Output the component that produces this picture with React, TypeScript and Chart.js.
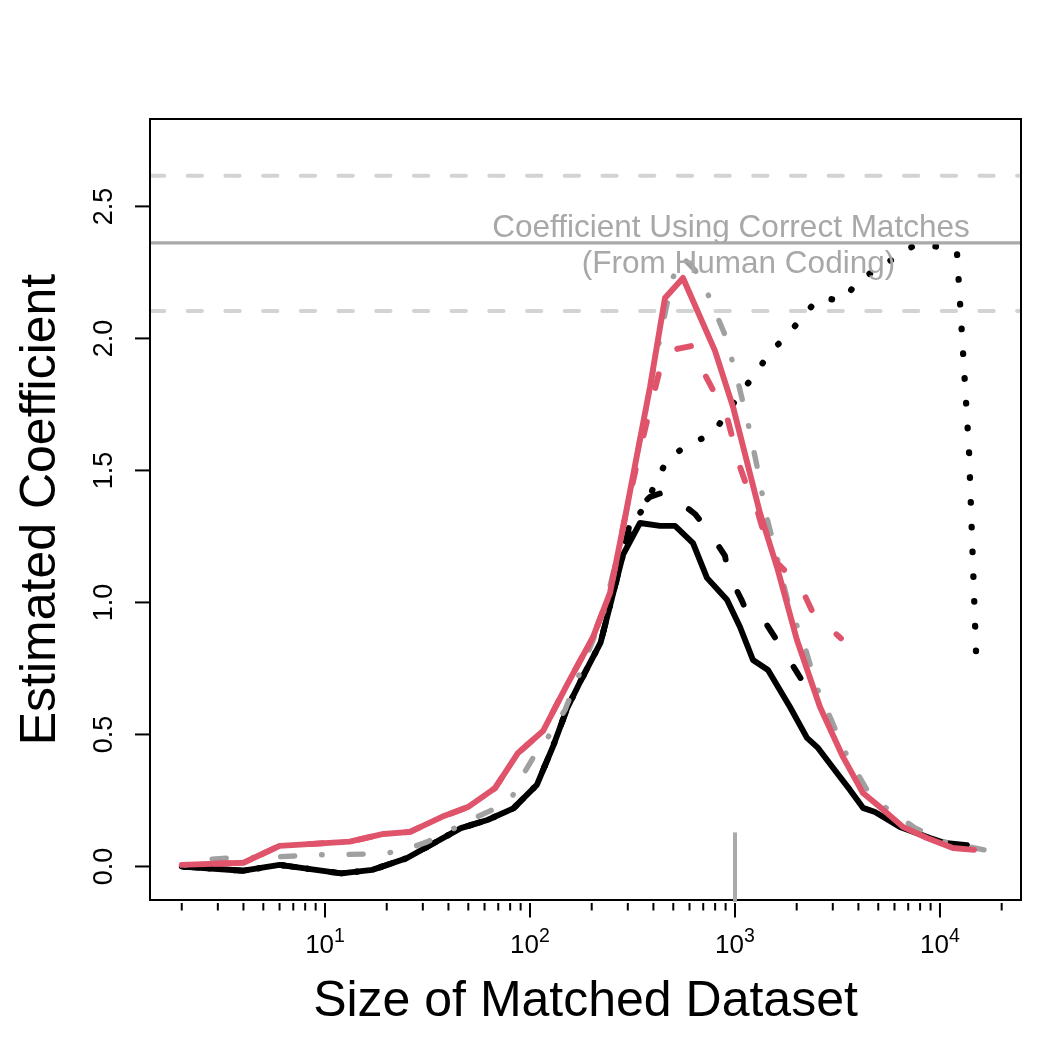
import React, { useEffect, useRef } from "react";
import { Chart, registerables } from "chart.js";

Chart.register(...registerables);

// ---------------- data ----------------
// Reference values (coefficient from human-coded correct matches)
const correctCoef = 2.362;
const correctLower = 2.104;
const correctUpper = 2.616;
const markerX = 1000;
const markerTop = 0.129;
const annotationLines = ["Coefficient Using Correct Matches", "(From Human Coding)"];

// axis ticks
const xLabelPowers = [1, 2, 3, 4];
const xTickDecades = [0, 1, 2, 3, 4];
const xTickMultipliers = [1, 2, 3, 4, 5, 6, 7, 8, 9];
const xTickFirst = 2;
const xTickLast = 20000;
const yTickValues = [0, 0.5, 1, 1.5, 2, 2.5];
const yTickLabels = ["0.0", "0.5", "1.0", "1.5", "2.0", "2.5"];

// black lines share their first part
const blackCommonX = [2, 4, 6, 12, 17, 25, 46, 62, 83, 108, 130, 152, 175, 221, 284];
const blackCommonY = [0.0, -0.016, 0.006, -0.026, -0.013, 0.031, 0.145, 0.176, 0.22, 0.309, 0.458, 0.6, 0.697, 0.848, 1.18];

const blackSolidRestX = [344, 431, 510, 624, 730, 914, 1058, 1224, 1449, 1855, 2245, 2541, 3145, 3639, 4211, 4819, 6380, 8940, 10578, 13544];
const blackSolidRestY = [1.301, 1.29, 1.29, 1.225, 1.093, 1.01, 0.907, 0.782, 0.744, 0.604, 0.487, 0.449, 0.354, 0.29, 0.222, 0.206, 0.15, 0.108, 0.089, 0.081];

const blackDashedRestX = [308, 336, 385, 456, 521, 638, 738, 894, 925, 1082, 1184, 1432, 1621, 2087];
const blackDashedRestY = [1.305, 1.358, 1.4, 1.419, 1.388, 1.335, 1.275, 1.176, 1.112, 1.006, 0.934, 0.915, 0.85, 0.714];

const blackDottedRestX = [329, 371, 417, 471, 603, 772, 914, 1058, 1266, 1465, 1794, 2147, 2570, 3364, 4012, 4967, 6080, 7551, 9636, 12100, 13852, 14987];
const blackDottedRestY = [1.313, 1.38, 1.464, 1.547, 1.6, 1.638, 1.714, 1.794, 1.866, 1.945, 2.009, 2.085, 2.153, 2.144, 2.22, 2.263, 2.308, 2.354, 2.348, 2.328, 1.577, 0.816];

// red lines share their first part
const redCommonX = [2, 4, 6, 13.2, 19.3, 26, 37.2, 49.8, 67.5, 87.4, 115.7, 151.5, 203, 245.6, 290.6];
const redCommonY = [0.006, 0.014, 0.078, 0.094, 0.123, 0.131, 0.188, 0.225, 0.297, 0.43, 0.513, 0.688, 0.869, 1.036, 1.32];

const redSolidRestX = [385, 455.5, 557.5, 799, 978, 1324, 1603, 2006, 2598, 3364, 4211, 5097, 6599, 8643, 11571, 14655];
const redSolidRestY = [1.816, 2.153, 2.229, 1.953, 1.741, 1.339, 1.134, 0.858, 0.604, 0.415, 0.278, 0.225, 0.15, 0.108, 0.07, 0.063];

const redDashedRestX = [344, 398, 421, 450, 493, 617, 706, 781, 914, 1058, 1144, 1295, 1369, 1603, 1794, 2195, 2402, 3289];
const redDashedRestY = [1.578, 1.778, 1.854, 1.938, 1.956, 1.972, 1.869, 1.805, 1.703, 1.513, 1.438, 1.339, 1.275, 1.15, 1.112, 1.025, 0.96, 0.864];

const greyX = [2, 2.6, 3.33, 5.58, 9.45, 15.7, 20.3, 26, 31.5, 53.9, 65.3, 81.7, 92.4, 103.4, 121, 148.2, 169.6, 203, 227, 274.8, 344, 398, 493, 551, 638, 730, 894, 1023, 1157, 1280, 1416, 1603, 1814, 2195, 2512, 2811, 3441, 4405, 5391, 7551, 10578, 16400];
const greyY = [0.002, 0.025, 0.032, 0.036, 0.044, 0.047, 0.051, 0.07, 0.093, 0.184, 0.214, 0.263, 0.347, 0.411, 0.483, 0.593, 0.706, 0.858, 0.953, 1.218, 1.616, 1.873, 2.222, 2.309, 2.259, 2.176, 2.013, 1.85, 1.68, 1.517, 1.335, 1.172, 1.002, 0.831, 0.676, 0.593, 0.434, 0.29, 0.225, 0.146, 0.093, 0.063];

// ---------------- helpers ----------------
const FONT = '"Liberation Sans", Arial, Helvetica, sans-serif';
const RED = "#DF536B";
const GREY = "#A0A0A0";

const pts = (xs: number[], ys: number[]) => xs.map((x, i) => ({ x, y: ys[i] }));

// dash offset so that the pattern reaches a given phase at the path's end
const endPhase = (xs: number[], ys: number[], phaseAtEnd: number, period: number) => (c: any) => {
  const sx = c?.chart?.scales?.x;
  const sy = c?.chart?.scales?.y;
  if (!sx || !sy) return 0;
  let L = 0;
  for (let i = 1; i < xs.length; i++) {
    const dx = sx.getPixelForValue(xs[i]) - sx.getPixelForValue(xs[i - 1]);
    const dy = sy.getPixelForValue(ys[i]) - sy.getPixelForValue(ys[i - 1]);
    L += Math.hypot(dx, dy);
  }
  if (!isFinite(L)) return 0;
  return (((phaseAtEnd - L) % period) + period) % period;
};

const rPlot = {
  id: "rPlot",
  beforeDraw(chart: any) {
    const ctx = chart.ctx;
    ctx.save();
    ctx.fillStyle = "#ffffff";
    ctx.fillRect(0, 0, chart.width, chart.height);
    ctx.restore();
  },
  beforeDatasetsDraw(chart: any) {
    const { ctx, chartArea: a } = chart;
    const y = chart.scales.y;
    ctx.save();
    ctx.beginPath();
    ctx.rect(a.left, a.top, a.right - a.left, a.bottom - a.top);
    ctx.clip();
    ctx.strokeStyle = "#D3D3D3";
    ctx.lineWidth = 4;
    ctx.lineCap = "round";
    ctx.setLineDash([14.3, 23.4]);
    for (const v of [correctUpper, correctLower]) {
      const py = y.getPixelForValue(v);
      ctx.beginPath();
      ctx.moveTo(a.left, py);
      ctx.lineTo(a.right, py);
      ctx.stroke();
    }
    ctx.restore();
  },
  afterDatasetsDraw(chart: any) {
    const { ctx, chartArea: a } = chart;
    const x = chart.scales.x;
    const y = chart.scales.y;
    ctx.save();

    // solid reference line
    ctx.strokeStyle = "#AAAAAA";
    ctx.lineWidth = 3.3;
    ctx.setLineDash([]);
    ctx.lineCap = "butt";
    const pc = y.getPixelForValue(correctCoef);
    ctx.beginPath();
    ctx.moveTo(a.left, pc);
    ctx.lineTo(a.right, pc);
    ctx.stroke();

    // annotation text
    ctx.fillStyle = "#A8A8A8";
    ctx.font = `31.5px ${FONT}`;
    ctx.textAlign = "center";
    ctx.textBaseline = "alphabetic";
    ctx.fillText(annotationLines[0], 731, 236.7);
    ctx.fillText(annotationLines[1], 738.5, 273.3);

    // box
    ctx.strokeStyle = "#000000";
    ctx.lineWidth = 2;
    ctx.strokeRect(a.left, a.top, a.right - a.left, a.bottom - a.top);

    // marker segment at 1000
    const mx = x.getPixelForValue(markerX);
    ctx.strokeStyle = "#AAAAAA";
    ctx.lineWidth = 4;
    ctx.beginPath();
    ctx.moveTo(mx, a.bottom + 2);
    ctx.lineTo(mx, y.getPixelForValue(markerTop));
    ctx.stroke();

    // x ticks
    ctx.strokeStyle = "#000000";
    ctx.lineWidth = 2;
    for (const d of xTickDecades) {
      for (const m of xTickMultipliers) {
        const v = m * Math.pow(10, d);
        if (v < xTickFirst || v > xTickLast) continue;
        const px = x.getPixelForValue(v);
        const len = m === 1 ? 14.5 : 7.5;
        ctx.beginPath();
        ctx.moveTo(px, a.bottom + 3);
        ctx.lineTo(px, a.bottom + 3 + len);
        ctx.stroke();
      }
    }
    // y ticks
    for (const v of yTickValues) {
      const py = y.getPixelForValue(v);
      ctx.beginPath();
      ctx.moveTo(a.left - 15, py);
      ctx.lineTo(a.left, py);
      ctx.stroke();
    }

    // x tick labels 10^k
    ctx.fillStyle = "#000000";
    ctx.textAlign = "left";
    for (const p of xLabelPowers) {
      const px = x.getPixelForValue(Math.pow(10, p));
      ctx.font = `26px ${FONT}`;
      const w1 = ctx.measureText("10").width;
      ctx.font = `19.5px ${FONT}`;
      const w2 = ctx.measureText(String(p)).width;
      const start = px - (w1 + w2) / 2;
      ctx.font = `26px ${FONT}`;
      ctx.fillText("10", start, 953.3);
      ctx.font = `19.5px ${FONT}`;
      ctx.fillText(String(p), start + w1, 941.6);
    }

    // y tick labels (rotated)
    ctx.font = `27px ${FONT}`;
    ctx.textAlign = "center";
    yTickValues.forEach((v, i) => {
      const py = y.getPixelForValue(v);
      ctx.save();
      ctx.translate(112, py);
      ctx.rotate(-Math.PI / 2);
      ctx.fillText(yTickLabels[i], 0, 0);
      ctx.restore();
    });

    // axis titles
    ctx.font = `50px ${FONT}`;
    ctx.textAlign = "center";
    ctx.fillText("Size of Matched Dataset", (a.left + a.right) / 2, 1016);
    ctx.save();
    ctx.translate(55, (a.top + a.bottom) / 2);
    ctx.rotate(-Math.PI / 2);
    ctx.fillText("Estimated Coefficient", 0, 0);
    ctx.restore();

    ctx.restore();
  },
};

export default function App() {
  const canvasRef = useRef<HTMLCanvasElement | null>(null);

  useEffect(() => {
    const canvas = canvasRef.current;
    if (!canvas) return;
    const base = {
      pointRadius: 0,
      pointHoverRadius: 0,
      borderWidth: 5.9,
      borderCapStyle: "round",
      borderJoinStyle: "round",
      tension: 0,
      fill: false,
    };
    const redSolidX = [...redCommonX, ...redSolidRestX];
    const redSolidY = [...redCommonY, ...redSolidRestY];
    const redDashedX = [...redCommonX, ...redDashedRestX];
    const redDashedY = [...redCommonY, ...redDashedRestY];
    const blackSolidX = [...blackCommonX, ...blackSolidRestX];
    const blackSolidY = [...blackCommonY, ...blackSolidRestY];
    const blackDashedX = [...blackCommonX, ...blackDashedRestX];
    const blackDashedY = [...blackCommonY, ...blackDashedRestY];
    const blackDottedX = [...blackCommonX, ...blackDottedRestX];
    const blackDottedY = [...blackCommonY, ...blackDottedRestY];

    const chart = new Chart(canvas, {
      type: "line",
      data: {
        datasets: [
          {
            ...base,
            label: "red solid",
            data: pts(redSolidX, redSolidY),
            borderColor: RED,
            order: 0,
          },
          {
            ...base,
            label: "red dashed",
            data: pts(redDashedX, redDashedY),
            borderColor: RED,
            borderDash: [14, 35],
            borderDashOffset: endPhase(redDashedX, redDashedY, 6, 49),
            order: 1,
          },
          {
            ...base,
            label: "grey dot-dash",
            data: pts(greyX, greyY),
            borderColor: GREY,
            borderWidth: 5.4,
            borderDash: [0.5, 27, 14, 27],
            borderDashOffset: endPhase(greyX, greyY, 40, 68.5),
            order: 2,
          },
          {
            ...base,
            label: "black dotted",
            data: pts(blackDottedX, blackDottedY),
            borderColor: "#000000",
            borderWidth: 6.3,
            borderDash: [0.5, 24.3],
            borderDashOffset: endPhase(blackDottedX, blackDottedY, 0.25, 24.8),
            order: 3,
          },
          {
            ...base,
            label: "black dashed",
            data: pts(blackDashedX, blackDashedY),
            borderColor: "#000000",
            borderDash: [14, 35],
            borderDashOffset: endPhase(blackDashedX, blackDashedY, 13, 49),
            order: 4,
          },
          {
            ...base,
            label: "black solid",
            data: pts(blackSolidX, blackSolidY),
            borderColor: "#000000",
            order: 5,
          },
        ] as any,
      },
      options: {
        animation: false,
        responsive: false,
        maintainAspectRatio: false,
        devicePixelRatio: 1,
        layout: { padding: { left: 0, top: 119, right: 31, bottom: 0 } },
        scales: {
          x: {
            type: "logarithmic",
            min: 1.4,
            max: 24850,
            ticks: { display: false },
            grid: { display: false },
            border: { display: false },
            afterFit: (s: any) => {
              s.height = 152;
            },
          },
          y: {
            type: "linear",
            min: -0.127,
            max: 2.831,
            ticks: { display: false },
            grid: { display: false },
            border: { display: false },
            afterFit: (s: any) => {
              s.width = 150;
            },
          },
        },
        plugins: {
          legend: { display: false },
          tooltip: { enabled: false },
        },
        events: [],
      } as any,
      plugins: [rPlot as any],
    });
    return () => {
      chart.destroy();
    };
  }, []);

  return (
    <div style={{ position: "absolute", left: 0, top: 0, width: 1052, height: 1052, background: "#fff" }}>
      <canvas ref={canvasRef} width={1052} height={1052} style={{ width: 1052, height: 1052, display: "block" }} />
    </div>
  );
}
